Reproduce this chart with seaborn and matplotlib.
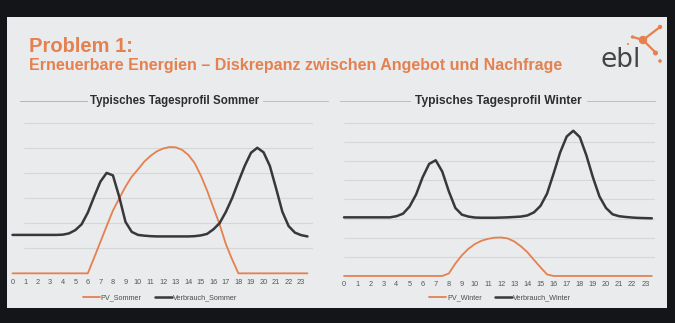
import matplotlib
matplotlib.use("Agg")
import matplotlib.pyplot as plt
import seaborn as sns
import pandas as pd
from matplotlib.lines import Line2D
from matplotlib.patches import Rectangle, Circle

# ---------------- data ----------------
hours = [0.0, 0.5, 1.0, 1.5, 2.0, 2.5, 3.0, 3.5, 4.0, 4.5, 5.0, 5.5,
         6.0, 6.5, 7.0, 7.5, 8.0, 8.5, 9.0, 9.5, 10.0, 10.5, 11.0, 11.5,
         12.0, 12.5, 13.0, 13.5, 14.0, 14.5, 15.0, 15.5, 16.0, 16.5, 17.0, 17.5,
         18.0, 18.5, 19.0, 19.5, 20.0, 20.5, 21.0, 21.5, 22.0, 22.5, 23.0, 23.5]

pv_sommer = [0, 0, 0, 0, 0, 0, 0, 0, 0, 0, 0, 0,
             0, 0.62, 1.25, 1.88, 2.50, 2.98, 3.45, 3.85, 4.14, 4.45, 4.68, 4.86,
             4.97, 5.03, 5.02, 4.92, 4.72, 4.40, 3.90, 3.30, 2.62, 1.95, 1.16, 0.55,
             0, 0, 0, 0, 0, 0, 0, 0, 0, 0, 0, 0]

verbrauch_sommer = [1.53, 1.53, 1.53, 1.53, 1.53, 1.53, 1.53, 1.53, 1.54, 1.59, 1.72, 1.95,
                    2.42, 3.05, 3.65, 4.00, 3.90, 3.05, 2.05, 1.65, 1.53, 1.50, 1.48, 1.47,
                    1.47, 1.47, 1.47, 1.47, 1.47, 1.48, 1.51, 1.57, 1.75, 2.00, 2.45, 3.00,
                    3.65, 4.28, 4.80, 5.00, 4.82, 4.28, 3.38, 2.45, 1.88, 1.62, 1.52, 1.47]

pv_winter = [0, 0, 0, 0, 0, 0, 0, 0, 0, 0, 0, 0,
             0, 0, 0, 0, 0.13, 0.65, 1.08, 1.42, 1.67, 1.84, 1.94, 2.00,
             2.01, 1.96, 1.80, 1.55, 1.24, 0.84, 0.45, 0.08, 0, 0, 0, 0,
             0, 0, 0, 0, 0, 0, 0, 0, 0, 0, 0, 0]

verbrauch_winter = [3.06, 3.06, 3.06, 3.06, 3.06, 3.06, 3.06, 3.06, 3.12, 3.25, 3.62, 4.25,
                    5.15, 5.85, 6.04, 5.45, 4.42, 3.55, 3.20, 3.10, 3.05, 3.04, 3.04, 3.04,
                    3.05, 3.06, 3.08, 3.10, 3.16, 3.32, 3.66, 4.30, 5.35, 6.45, 7.28, 7.58,
                    7.25, 6.30, 5.15, 4.15, 3.55, 3.22, 3.12, 3.08, 3.05, 3.03, 3.02, 3.01]

tick_hours = [0, 1, 2, 3, 4, 5, 6, 7, 8, 9, 10, 11, 12, 13, 14, 15, 16, 17, 18, 19, 20, 21, 22, 23]
tick_labels = ["0", "1", "2", "3", "4", "5", "6", "7", "8", "9", "10", "11",
               "12", "13", "14", "15", "16", "17", "18", "19", "20", "21", "22", "23"]

title_main = "Problem 1:"
title_sub = "Erneuerbare Energien \u2013 Diskrepanz zwischen Angebot und Nachfrage"
panel_titles = ["Typisches Tagesprofil Sommer", "Typisches Tagesprofil Winter"]
series_names = [["PV_Sommer", "Verbrauch_Sommer"], ["PV_Winter", "Verbrauch_Winter"]]

# ---------------- style ----------------
sns.set_theme(style="white")
plt.rcParams["font.family"] = ["Liberation Sans", "DejaVu Sans"]

ORANGE = "#e5804f"
BLACK = "#37383b"
GRID = "#d5d7d9"
SLIDE = "#e9ebec"

W, H = 675, 323
fig = plt.figure(figsize=(W / 100, H / 100), dpi=100)
fig.patch.set_facecolor("#131518")

bg = fig.add_axes([0, 0, 1, 1])
bg.set_xlim(0, W)
bg.set_ylim(H, 0)
bg.axis("off")
bg.add_patch(Rectangle((7, 17), 660, 291, facecolor=SLIDE, edgecolor="none"))


def px_axes(x0, y0, x1, y1):
    a = fig.add_axes([x0 / W, 1 - y1 / H, (x1 - x0) / W, (y1 - y0) / H])
    a.set_facecolor("none")
    return a


def fit_text(x, y, s, width_px, **kw):
    t = bg.text(x, y, s, **kw)
    fig.canvas.draw()
    bb = t.get_window_extent()
    t.set_fontsize(t.get_fontsize() * width_px / bb.width)
    return t


# titles
fit_text(29, 52, title_main, 104, fontsize=14, fontweight="bold", color=ORANGE,
         ha="left", va="baseline")
fit_text(29, 70, title_sub, 534, fontsize=11, fontweight="bold", color=ORANGE,
         ha="left", va="baseline")

# logo
bg.text(621, 67, "ebl", ha="center", va="baseline", fontsize=19, color="#444547",
        family=["DejaVu Sans"])
for (xe, ye) in [(660, 27), (633, 37), (655, 52)]:
    bg.plot([643, xe], [40, ye], color=ORANGE, lw=1.6, solid_capstyle="round")
for (xc, yc, r) in [(643, 40, 4.2), (660, 27, 2.2), (632.5, 37, 1.7), (655.5, 53, 2.5),
                    (660, 61, 1.8), (628, 44, 1.0)]:
    bg.add_patch(Circle((xc, yc), r, facecolor=ORANGE, edgecolor="none"))

# panel titles with rules
fit_text(175, 101, panel_titles[0], 170, fontsize=8, fontweight="bold", color="#2d2e30",
         ha="center", va="center")
fit_text(498, 101, panel_titles[1], 166, fontsize=8, fontweight="bold", color="#2d2e30",
         ha="center", va="center")
bg.plot([20, 87], [101, 101], color="#d8a99c", lw=0.7)
bg.plot([263, 328], [101, 101], color="#bdbdbd", lw=0.7)
bg.plot([340, 410], [101, 101], color="#bdbdbd", lw=0.7)
bg.plot([587, 655], [101, 101], color="#bdbdbd", lw=0.7)

panels = [
    dict(px=(8, 118.9, 313, 277.1), xlim=(-0.36, 23.94), ylim=(-0.15, 6.15), grid=range(1, 7),
         grid_x0=0.9, pv=pv_sommer, vb=verbrauch_sommer, names=series_names[0], pad=1.2,
         leg_x=160),
    dict(px=(341, 118.9, 655, 279.8), xlim=(-0.23, 23.74), ylim=(-0.2, 8.2), grid=range(1, 9),
         grid_x0=0.0, pv=pv_winter, vb=verbrauch_winter, names=series_names[1], pad=0.7,
         leg_x=500),
]

for p in panels:
    ax = px_axes(*p["px"])
    df = pd.DataFrame({"Stunde": hours * 2,
                       "Leistung": list(p["pv"]) + list(p["vb"]),
                       "Reihe": [p["names"][0]] * len(hours) + [p["names"][1]] * len(hours)})
    ax.hlines(list(p["grid"]), p["grid_x0"], p["xlim"][1], color=GRID, lw=0.8, zorder=0)
    sns.lineplot(data=df[df["Reihe"] == p["names"][0]], x="Stunde", y="Leistung",
                 color=ORANGE, lw=1.3, ax=ax, legend=False, clip_on=False,
                 solid_joinstyle="round", solid_capstyle="round")
    sns.lineplot(data=df[df["Reihe"] == p["names"][1]], x="Stunde", y="Leistung",
                 color=BLACK, lw=1.8, ax=ax, legend=False, clip_on=False,
                 solid_joinstyle="round", solid_capstyle="round")
    ax.set_xlim(*p["xlim"])
    ax.set_ylim(*p["ylim"])
    ax.set_yticks([])
    ax.grid(False)
    ax.set_xticks(tick_hours)
    ax.set_xticklabels(tick_labels)
    ax.tick_params(axis="x", length=0, pad=p["pad"], labelsize=5.3, labelcolor="#55575a")
    ax.set_xlabel("")
    ax.set_ylabel("")
    for s in ax.spines.values():
        s.set_visible(False)
    handles = [Line2D([], [], color=ORANGE, lw=1.3), Line2D([], [], color=BLACK, lw=1.8)]
    ax.legend(handles, p["names"], loc="center", bbox_to_anchor=(p["leg_x"] / W, 1 - 298 / H),
              bbox_transform=fig.transFigure, ncol=2, frameon=False, fontsize=5.2,
              handlelength=2.4, handletextpad=0.1, columnspacing=1.8, labelcolor="#4a4b4e")

fig.savefig("out.png", dpi=100, facecolor=fig.get_facecolor())
